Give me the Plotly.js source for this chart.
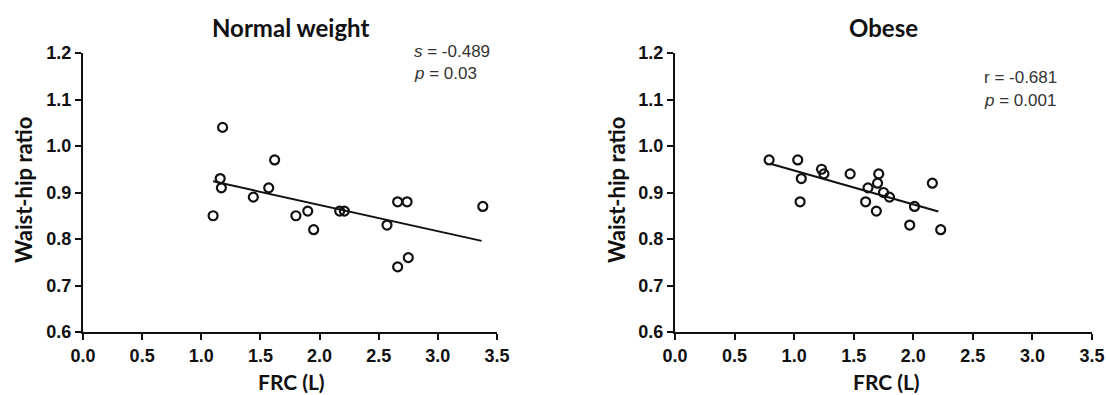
<!DOCTYPE html>
<html>
<head>
<meta charset="utf-8">
<script src="https://cdn.plot.ly/plotly-3.0.1.min.js"></script>
<style>html,body{margin:0;padding:0;background:#fff;}#chart{width:1106px;height:395px;}</style>
</head>
<body>
<div id="chart"></div>
<script>
// Normal weight group
var normalFRC = [1.10, 1.16, 1.18, 1.17, 1.44, 1.57, 1.62, 1.80, 1.90, 1.95, 2.17, 2.21, 2.57, 2.66, 2.74, 2.66, 2.75, 3.38];
var normalWHR = [0.85, 0.93, 1.04, 0.91, 0.89, 0.91, 0.97, 0.85, 0.86, 0.82, 0.86, 0.86, 0.83, 0.88, 0.88, 0.74, 0.76, 0.87];
var normalFitX = [1.10, 3.37];
var normalFitY = [0.924, 0.796];

// Obese group
var obeseFRC = [0.79, 1.03, 1.06, 1.05, 1.23, 1.25, 1.47, 1.62, 1.60, 1.71, 1.70, 1.75, 1.80, 1.69, 2.01, 1.97, 2.16, 2.23];
var obeseWHR = [0.97, 0.97, 0.93, 0.88, 0.95, 0.94, 0.94, 0.91, 0.88, 0.94, 0.92, 0.90, 0.89, 0.86, 0.87, 0.83, 0.92, 0.82];
var obeseFitX = [0.80, 2.21];
var obeseFitY = [0.962, 0.859];

var xTicks = [0.0, 0.5, 1.0, 1.5, 2.0, 2.5, 3.0, 3.5];
var yTicks = [0.6, 0.7, 0.8, 0.9, 1.0, 1.1, 1.2];
var panelTitles = ["Normal weight", "Obese"];
var statsNormal = ["<i>s</i> = -0.489", "<i>p</i> = 0.03"];
var statsObese = ["r = -0.681", "<i>p</i> = 0.001"];

var W = 1106, H = 395;
function px(x){ return x / W; }
function py(y){ return 1 - y / H; }

var marker = {symbol: 'circle-open', size: 9, color: '#111', line: {width: 2.2, color: '#111'}};

var traces = [
  {x: normalFRC, y: normalWHR, type: 'scatter', mode: 'markers', marker: marker, xaxis: 'x', yaxis: 'y'},
  {x: normalFitX, y: normalFitY, type: 'scatter', mode: 'lines', line: {color: '#111', width: 2}, xaxis: 'x', yaxis: 'y'},
  {x: obeseFRC, y: obeseWHR, type: 'scatter', mode: 'markers', marker: marker, xaxis: 'x2', yaxis: 'y2'},
  {x: obeseFitX, y: obeseFitY, type: 'scatter', mode: 'lines', line: {color: '#111', width: 2}, xaxis: 'x2', yaxis: 'y2'}
];

var tickFont = {family: '"Liberation Sans", Arial, sans-serif', size: 18, color: '#111', weight: 'bold'};

function xAxis(domain, anchor){
  return {
    domain: domain, anchor: anchor, range: [0, 3.5], tickmode: 'array', tickvals: xTicks,
    ticktext: xTicks.map(function(v){return v.toFixed(1);}),
    showline: true, linecolor: '#111', linewidth: 2, ticks: 'outside', ticklen: 6, tickwidth: 2, tickcolor: '#111',
    showgrid: false, zeroline: false, tickfont: tickFont, fixedrange: true
  };
}
function yAxis(domain, anchor){
  return {
    domain: domain, anchor: anchor, range: [0.6, 1.2], tickmode: 'array', tickvals: yTicks,
    ticktext: yTicks.map(function(v){return v.toFixed(1);}),
    showline: true, linecolor: '#111', linewidth: 2, ticks: 'outside', ticklen: 6, tickwidth: 2, tickcolor: '#111',
    showgrid: false, zeroline: false, tickfont: tickFont, fixedrange: true
  };
}

var yDom = [py(332), py(53)];
var xDomL = [px(83), px(497)];
var xDomR = [px(675), px(1092)];

var titleFont = {family: 'Lato, "Open Sans", sans-serif', size: 24, color: '#111', weight: 'bold'};
var axTitleFont = {family: 'Lato, "Open Sans", sans-serif', size: 22, color: '#111', weight: 'bold'};
var xTitleFont = {family: 'Lato, "Open Sans", sans-serif', size: 21, color: '#111', weight: 'bold'};
var statFont = {family: '"Liberation Sans", Arial, sans-serif', size: 17, color: '#333'};

var ann = [];
function A(text, x, y, font, opts){
  var a = {text: text, xref: 'paper', yref: 'paper', x: px(x), y: py(y), showarrow: false, font: font, xanchor: 'center', yanchor: 'middle'};
  for (var k in (opts||{})) a[k] = opts[k];
  ann.push(a);
}
A(panelTitles[0], 290, 27, titleFont);
A(panelTitles[1], 883, 27, titleFont);
A('Waist-hip ratio', 23, 190, axTitleFont, {textangle: -90});
A('Waist-hip ratio', 616, 190, axTitleFont, {textangle: -90});
A('FRC (L)', 291, 381, xTitleFont);
A('FRC (L)', 886, 381, xTitleFont);
A(statsNormal[0], 412, 51, statFont, {xanchor: 'left'});
A(statsNormal[1], 412, 73, statFont, {xanchor: 'left'});
A(statsObese[0], 982, 77, statFont, {xanchor: 'left'});
A(statsObese[1], 982, 100, statFont, {xanchor: 'left'});

var layout = {
  width: W, height: H, margin: {l: 0, r: 0, t: 0, b: 0},
  paper_bgcolor: '#fff', plot_bgcolor: 'rgba(0,0,0,0)', showlegend: false,
  xaxis: xAxis(xDomL, 'y'), yaxis: yAxis(yDom, 'x'),
  xaxis2: xAxis(xDomR, 'y2'), yaxis2: yAxis(yDom, 'x2'),
  annotations: ann
};

Plotly.newPlot('chart', traces, layout, {displayModeBar: false, staticPlot: true});
</script>
</body>
</html>
